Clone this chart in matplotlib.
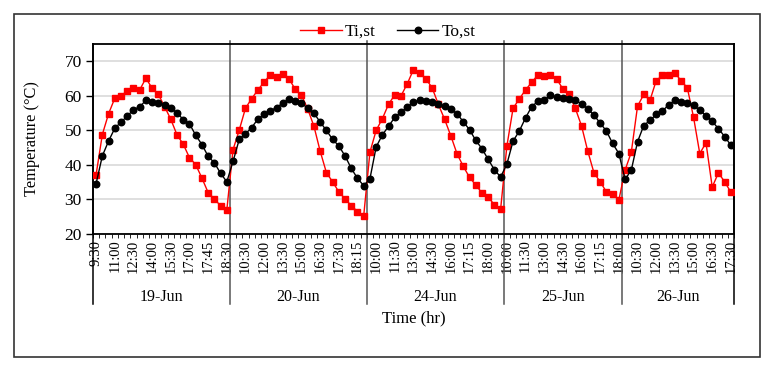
import matplotlib
matplotlib.use("Agg")
import matplotlib.pyplot as plt
import matplotlib.patches as patches
from matplotlib.lines import Line2D

plt.rcParams['font.family'] = ['Liberation Serif', 'DejaVu Serif']

days = ["19-Jun", "20-Jun", "24-Jun", "25-Jun", "26-Jun"]

times_19 = ["9:30", "10:00", "10:30", "11:00", "11:30", "12:00", "12:30", "13:00", "13:30", "14:00", "14:30",
            "15:00", "15:30", "16:00", "16:30", "17:00", "17:15", "17:30", "17:45", "18:00", "18:15", "18:30"]
times_20 = ["9:30", "10:00", "10:30", "11:00", "11:30", "12:00", "12:30", "13:00", "13:30", "14:00", "14:30",
            "15:00", "15:30", "16:00", "16:30", "17:00", "17:15", "17:30", "17:45", "18:00", "18:15", "18:30"]
times_24 = ["9:30", "10:00", "10:30", "11:00", "11:30", "12:00", "12:30", "13:00", "13:30", "14:00", "14:30",
            "15:00", "15:30", "16:00", "16:30", "17:00", "17:15", "17:30", "17:45", "18:00", "18:15", "18:30"]
times_25 = ["10:00", "10:30", "11:00", "11:30", "12:00", "12:30", "13:00", "13:30", "14:00", "14:30",
            "15:00", "15:30", "16:00", "16:30", "17:00", "17:15", "17:30", "17:45", "18:00"]
times_26 = ["9:30", "10:00", "10:30", "11:00", "11:30", "12:00", "12:30", "13:00", "13:30", "14:00", "14:30",
            "15:00", "15:30", "16:00", "16:30", "17:00", "17:15", "17:30"]

# inner (Ti,st) and outer (To,st) temperatures, one list per day
ti_19 = [37.2, 48.8, 54.8, 59.3, 59.9, 61.5, 62.2, 61.7, 65.1, 62.2, 60.4, 56.9, 53.2, 48.7, 46.0, 42.1,
         40.1, 36.2, 32.0, 30.1, 28.2, 26.9]
to_19 = [34.6, 42.6, 46.9, 50.6, 52.4, 54.1, 56.0, 56.8, 58.7, 58.3, 58.0, 57.2, 56.4, 55.1, 53.1, 51.9,
         48.6, 45.9, 42.5, 40.6, 37.6, 35.1]
ti_20 = [44.4, 50.1, 56.4, 59.2, 61.7, 64.0, 66.1, 65.5, 66.3, 64.9, 61.9, 60.2, 56.2, 51.2, 44.0, 37.8,
         35.1, 32.2, 30.2, 28.2, 26.5, 25.3]
to_20 = [41.0, 47.4, 49.0, 50.8, 53.3, 54.6, 55.7, 56.6, 57.9, 59.1, 58.6, 57.9, 56.4, 55.0, 52.4, 50.0,
         47.4, 45.5, 42.6, 39.0, 36.1, 34.0]
ti_24 = [43.7, 50.0, 53.4, 57.6, 60.3, 60.0, 63.5, 67.6, 66.5, 64.9, 62.3, 57.5, 53.2, 48.4, 43.2, 39.6,
         36.4, 34.2, 31.9, 30.6, 28.5, 27.2]
to_24 = [36.0, 45.2, 48.7, 51.2, 53.8, 55.3, 56.7, 58.2, 58.7, 58.4, 58.1, 57.7, 57.0, 56.2, 54.8, 52.5,
         50.2, 47.1, 44.7, 41.6, 38.6, 36.5]
ti_25 = [45.4, 56.4, 59.1, 61.7, 63.9, 66.1, 65.6, 66.1, 64.9, 62.0, 60.4, 56.4, 51.3, 44.0, 37.7, 35.1,
         32.2, 31.6, 29.9]
to_25 = [40.2, 46.9, 49.8, 53.6, 56.9, 58.4, 58.8, 60.1, 59.6, 59.4, 59.1, 58.7, 57.7, 56.2, 54.4, 52.1,
         49.8, 46.2, 43.3]
ti_26 = [38.5, 43.7, 57.0, 60.4, 58.7, 64.4, 65.9, 66.0, 66.6, 64.4, 62.3, 53.8, 43.3, 46.4, 33.6, 37.7,
         35.1, 32.1]
to_26 = [35.8, 38.5, 46.7, 51.4, 52.9, 54.6, 55.6, 57.4, 58.7, 58.2, 57.9, 57.2, 55.8, 54.3, 52.6, 50.5,
         48.2, 45.7]

day_times = [times_19, times_20, times_24, times_25, times_26]
ti = ti_19 + ti_20 + ti_24 + ti_25 + ti_26
to = to_19 + to_20 + to_24 + to_25 + to_26
labels = times_19 + times_20 + times_24 + times_25 + times_26
x = list(range(len(labels)))

fig = plt.figure(figsize=(7.75, 3.72), dpi=100)
ax = fig.add_axes([93 / 775, (372 - 234) / 372, (734 - 93) / 775, (234 - 44) / 372])

ax.plot(x, ti, color='#ff0000', lw=1.0, marker='s', ms=4.4, mec='#ff0000', mfc='#ff0000', label='Ti,st', zorder=3)
ax.plot(x, to, color='black', lw=1.0, marker='o', ms=4.7, label='To,st', zorder=4)

ax.set_xlim(-0.5, len(x) - 0.5)
ax.set_ylim(20, 75)
ax.set_yticks([20, 30, 40, 50, 60, 70])
ax.yaxis.grid(True, color='#d9d9d9', lw=1.2)
ax.set_axisbelow(True)

ax.set_xticks(x[::3])
ax.set_xticklabels(labels[::3], rotation=90, fontsize=10.5)
ax.set_xticks([i - 0.5 for i in x] + [len(x) - 0.5], minor=True)
ax.tick_params(axis='x', which='major', length=0, pad=4)
ax.tick_params(axis='x', which='minor', length=3, width=0.6, direction='out')
ax.tick_params(axis='y', labelsize=12.5, length=5, width=1, direction='out', pad=3)

for s in ax.spines.values():
    s.set_linewidth(1.3)
    s.set_color('black')

# day separators and day labels
start = 0
bounds = [-0.5]
for name, t in zip(days, day_times):
    end = start + len(t)
    bounds.append(end - 0.5)
    ax.text((start + end - 1) / 2, -0.332, name, transform=ax.get_xaxis_transform(),
            ha='center', va='center', fontsize=11.5)
    start = end
for i, b in enumerate(bounds):
    top = 1.0 if i in (0, len(bounds) - 1) else 1.018
    col = 'black' if i in (0, len(bounds) - 1) else '#555555'
    ax.add_line(Line2D([b, b], [-0.368, top], transform=ax.get_xaxis_transform(),
                       color=col, lw=1.1, clip_on=False, zorder=2))

ax.set_ylabel('Temperature (°C)', fontsize=11.8)
ax.yaxis.set_label_coords(-0.083, 0.5)
fig.text(0.5335, (372 - 318) / 372, 'Time (hr)', ha='center', va='center', fontsize=12)

ax.legend(loc='lower center', bbox_to_anchor=(0.46, 0.975), ncol=2, frameon=False, fontsize=12.5,
          handlelength=2.4, columnspacing=1.2, handletextpad=0.2, borderaxespad=0.1)

fig.patches.append(patches.Rectangle((14 / 775, 15 / 372), 746 / 775, 343 / 372, transform=fig.transFigure,
                                     fill=False, edgecolor='#333333', lw=1.2))

fig.savefig('out.png', dpi=100)
